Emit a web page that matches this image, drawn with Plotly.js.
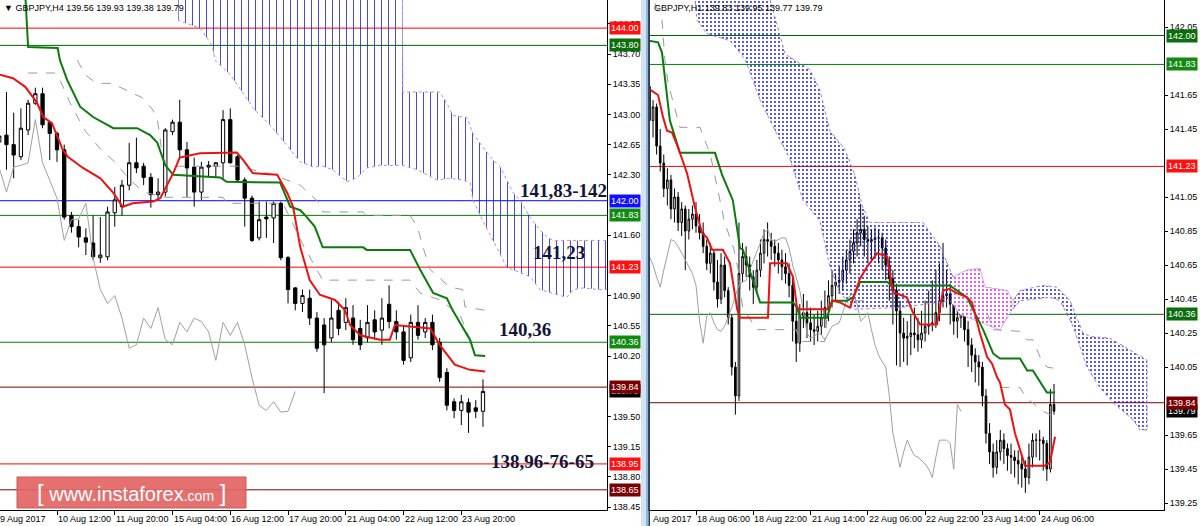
<!DOCTYPE html>
<html><head><meta charset="utf-8">
<script src="https://cdn.plot.ly/plotly-3.0.1.min.js"></script>
<style>html,body{margin:0;padding:0;background:#fff;overflow:hidden}#chart{width:1200px;height:526px}</style>
</head><body><div id="chart"></div>
<script>
// ================= LEFT PANEL : GBPJPY H4 =================
const barL0 = -8; // bar number of first candle (bar 0 = 10 Aug 12:00)
const openL  = [142.68,142.76,142.65,142.51,142.82,143.13,143.24,142.91,142.78,142.59,141.83,141.70,141.57,141.51,141.34,141.35,141.86,141.93,142.18,142.44,142.40,142.27,142.07,142.10,142.80,142.91,142.59,142.39,142.10,142.39,142.40,142.44,142.94,142.51,142.24,142.03,141.57,141.81,141.80,141.97,141.34,140.99,140.81,140.87,140.64,140.56,140.41,140.73,140.59,140.64,140.52,140.41,140.62,140.50,140.80,140.60,140.48,140.18,140.59,140.48,140.59,140.36,140.01,139.67,139.57,139.66,139.60,139.56];
const highL  = [142.88,143.26,143.02,143.07,143.17,143.31,143.31,142.91,142.80,142.65,141.87,141.78,141.68,141.83,141.81,141.93,142.16,142.24,142.67,142.73,142.44,142.32,142.26,142.84,142.94,143.17,142.68,142.50,142.45,142.46,142.45,143.05,143.07,142.53,142.27,142.06,141.99,141.99,141.99,141.99,141.36,141.00,140.97,140.97,140.71,140.64,140.85,140.83,140.87,140.79,140.62,140.79,140.73,140.87,141.02,140.73,140.56,140.68,140.79,140.64,140.68,140.41,140.06,139.71,139.75,139.71,139.69,139.93];
const lowL   = [142.47,142.36,142.26,142.47,142.76,143.11,142.84,142.47,142.45,141.78,141.63,141.46,141.37,141.31,141.28,141.31,141.70,141.83,142.12,142.32,142.18,141.92,142.01,142.05,142.76,142.50,142.04,141.93,142.01,142.27,142.27,142.24,142.43,142.23,141.70,141.52,141.54,141.57,141.51,141.31,140.81,140.73,140.71,140.56,140.25,139.77,140.36,140.44,140.50,140.33,140.27,140.36,140.39,140.33,140.52,140.39,140.10,140.13,140.39,140.41,140.27,139.90,139.57,139.48,139.40,139.31,139.48,139.38];
const closeL = [142.75,142.65,142.53,142.84,143.13,143.24,142.88,142.78,142.59,141.81,141.70,141.58,141.52,141.35,141.37,141.87,142.01,142.18,142.44,142.38,142.27,142.07,142.10,142.82,142.91,142.59,142.38,142.10,142.39,142.41,142.44,142.94,142.44,142.24,142.03,141.54,141.78,141.79,141.97,141.34,140.97,140.81,140.90,140.64,140.29,140.33,140.64,140.52,140.76,140.39,140.33,140.59,140.48,140.64,140.60,140.48,140.15,140.59,140.44,140.59,140.33,139.95,139.63,139.57,139.67,139.55,139.56,139.79];

// indicator lines (bar number, price)
const tenkanLx = [-7.9,-6.1,-4.4,-2.8,-1.9,-0.7,0.8,1.5,3.6,6,7.8,9.1,10.5,13.3,14.3,16.1,17,19.8,24.9,25.8,27.1,30.5,31.9,32.7,33.7,35,36.4,38.5,39.9,40.6,42,44.7,46.1,46.8,51.7,53,55.1,57.2,59.3];
const tenkanLy = [143.46,143.42,143.32,143.14,142.97,142.90,142.59,142.51,142.38,142.26,142.09,141.93,141.97,141.99,142.03,142.32,142.50,142.55,142.56,142.47,142.32,142.30,142.09,141.93,141.46,141.08,140.91,140.85,140.73,140.56,140.44,140.39,140.39,140.56,140.52,140.33,140.10,140.04,140.02];
const kijunLx = [-4.4,-4,0.1,0.4,1.4,3.2,5,7.8,11.1,12.9,13.9,15,16.1,22.6,23.5,30.9,32.3,33.7,34.6,35.7,36.8,42.4,42.9,48.9,50.3,52.1,54,54.8,57.2,57.9,59.3];
const kijunLy = [144.40,143.78,143.77,143.63,143.40,143.09,142.97,142.84,142.84,142.76,142.67,142.41,142.30,142.27,142.22,142.21,141.93,141.89,141.81,141.70,141.46,141.46,141.43,141.43,141.20,140.93,140.87,140.73,140.39,140.21,140.20];
const dashA_Lx = [-4,-0.3,0.4,2,4,6,8,10,12,15,23,23.5,31.3,32.3,34,36,36.8,48.9,50.3,53,55.8,57.2,58.3];
const dashA_Ly = [143.48,143.48,143.40,143.10,142.80,142.60,142.45,142.25,142.10,142.04,142.04,141.97,141.97,141.80,141.50,141.20,141.08,141.08,140.93,140.85,140.68,140.39,140.33];
const dashB_Lx = [2.8,3.9,5.5,7.6,10.4,11.9,13.3,13.9,14.7,16,25,30,33.7,36.4,36.8,42.4,42.9,48.9,49.9,50.7,51.7,54.4,56.2,56.5,59.3];
const dashB_Ly = [143.63,143.46,143.36,143.36,143.25,143.19,143.05,142.94,142.47,142.40,142.40,142.30,142.18,141.97,141.87,141.87,141.83,141.83,141.70,141.46,141.20,141.00,140.97,140.77,140.73];
// Kumo (cloud) boundaries
const cloudTopLx = [16.8,47.8,47.9,53,54,54.8,56.8,57.6,59,60.4,61.4,63.2,64.1,65.5,66.9,67.9,68.7,75.2,76.3];
const cloudTopLy = [145.0,145.0,143.26,143.26,143.13,142.99,142.96,142.78,142.62,142.47,142.39,142.09,142.01,141.81,141.66,141.58,141.54,141.54,141.54];
const cloudBotLx = [16.8,19.8,21.5,21.9,24,26,27.4,29.5,32.3,33.7,35.5,36.8,38.2,40.2,41.6,42.9,44.7,47.9,49.9,51.2,52.6,54.4,56.2,57.2,57.6,58.9,60.4,62.3,64.1,65.5,66.9,68.7,70.6,71.5,72.9,75.2,76.3];
const cloudBotLy = [144.09,144.00,143.80,143.63,143.46,143.22,143.05,142.88,142.59,142.45,142.39,142.40,142.36,142.22,142.27,142.38,142.41,142.41,142.36,142.30,142.24,142.26,142.24,142.21,142.01,141.78,141.54,141.23,141.17,141.12,140.97,140.93,140.88,140.97,140.99,140.97,140.97];
const levelsL = [144.00,143.80,142.00,141.83,141.23,140.36,139.84,138.95,138.65];
const levelColorsL = ['#ff0000','#006400','#0000ff','#008000','#ff0000','#008000','#800000','#ff0000','#800000'];
const boxValsL = ['144.00','143.80','142.00','141.83','141.23','140.36','139.79','139.84','138.95','138.65'];
const boxColorsL = ['#ff1010','#0a6e0a','#1010ff','#108a10','#ff1010','#108a10','#000000','#7a0000','#ff1010','#7a0000'];
const tickValsL = [138.45,138.80,139.15,139.50,140.20,140.55,140.90,141.60,142.30,142.65,143.00,143.35,143.70,144.05];
const dateBarsL = [0,8,16,24,32,40,48,56];
const dateTextL = ['10 Aug 12:00','11 Aug 20:00','15 Aug 04:00','16 Aug 12:00','17 Aug 20:00','21 Aug 04:00','22 Aug 12:00','23 Aug 20:00'];

// ================= RIGHT PANEL : GBPJPY H1 =================
const barR0 = -13; // bar number of first candle (bar 0 = 18 Aug 06:00)
const openR  = [141.70,141.50,141.58,141.35,141.25,141.10,141.15,140.98,141.05,140.90,140.98,140.85,140.92,140.95,140.88,140.84,140.76,140.66,140.72,140.55,140.45,140.65,140.50,140.34,140.05,139.88,
140.60,140.70,140.65,140.58,140.52,140.62,140.72,140.80,140.79,140.76,140.72,140.68,140.64,140.60,140.53,140.32,140.19,140.35,140.37,140.31,140.27,140.26,140.29,140.34,140.40,140.47,140.53,140.55,140.56,140.62,140.68,140.73,140.78,140.84,140.86,140.80,140.79,140.80,140.81,140.81,140.75,140.65,140.57,140.50,140.38,140.25,140.22,140.23,140.25,140.24,140.21,140.25,140.29,140.30,140.31,140.37,140.44,140.47,140.48,140.42,140.32,140.34,140.37,140.27,140.18,140.12,140.08,140.05,139.88,139.66,139.55,139.46,139.55,139.62,139.57,139.53,139.52,139.50,139.48,139.45,139.40,139.52,139.62,139.62,139.62,139.60,139.45,139.83];
const highR  = [141.75,141.62,141.60,141.45,141.30,141.22,141.18,141.10,141.08,141.02,141.00,140.98,141.00,141.02,140.95,140.90,140.80,140.78,140.74,140.68,140.72,140.70,140.52,140.36,140.08,140.90,
140.78,140.76,140.70,140.62,140.68,140.80,140.86,140.90,140.84,140.80,140.78,140.74,140.72,140.66,140.58,140.40,140.42,140.48,140.44,140.40,140.36,140.38,140.44,140.50,140.56,140.62,140.60,140.64,140.70,140.74,140.80,140.86,140.92,141.01,140.94,140.88,140.86,140.87,140.86,140.84,140.80,140.70,140.62,140.54,140.44,140.34,140.32,140.36,140.40,140.34,140.38,140.44,140.50,140.56,140.62,140.66,140.78,140.62,140.54,140.48,140.42,140.46,140.42,140.32,140.22,140.16,140.12,140.08,139.92,139.72,139.60,139.62,139.68,139.66,139.60,139.60,139.56,139.56,139.52,139.50,139.60,139.66,139.66,139.68,139.64,139.62,139.92,139.95];
const lowR   = [141.45,141.40,141.30,141.20,141.05,141.00,140.92,140.90,140.85,140.82,140.62,140.80,140.86,140.84,140.80,140.72,140.62,140.60,140.50,140.40,140.42,140.46,140.30,140.00,139.77,139.85,
140.55,140.58,140.50,140.42,140.48,140.58,140.66,140.70,140.68,140.64,140.60,140.56,140.54,140.46,140.20,140.08,140.14,140.28,140.22,140.20,140.18,140.20,140.24,140.28,140.32,140.40,140.44,140.48,140.50,140.54,140.60,140.66,140.70,140.76,140.70,140.66,140.68,140.70,140.66,140.62,140.56,140.44,140.30,140.06,140.05,140.08,140.06,140.12,140.16,140.14,140.16,140.20,140.24,140.26,140.28,140.32,140.40,140.40,140.30,140.24,140.22,140.28,140.20,140.05,140.02,139.96,139.94,139.82,139.60,139.48,139.40,139.42,139.50,139.48,139.44,139.42,139.40,139.36,139.34,139.31,139.36,139.46,139.52,139.50,139.44,139.38,139.43,139.77];
const closeR = [141.50,141.58,141.35,141.25,141.10,141.15,140.98,141.05,140.90,140.98,140.85,140.92,140.95,140.88,140.84,140.76,140.66,140.72,140.55,140.45,140.65,140.50,140.34,140.05,139.88,140.60,
140.70,140.65,140.58,140.52,140.62,140.72,140.80,140.79,140.76,140.72,140.68,140.64,140.60,140.53,140.32,140.19,140.35,140.37,140.31,140.27,140.26,140.29,140.34,140.40,140.47,140.53,140.55,140.56,140.62,140.68,140.73,140.78,140.84,140.86,140.80,140.79,140.80,140.81,140.81,140.75,140.65,140.57,140.50,140.38,140.25,140.22,140.23,140.25,140.24,140.21,140.25,140.29,140.30,140.31,140.37,140.44,140.47,140.48,140.42,140.32,140.34,140.37,140.27,140.18,140.12,140.08,140.05,139.88,139.66,139.55,139.46,139.55,139.62,139.57,139.53,139.52,139.50,139.48,139.45,139.40,139.52,139.62,139.62,139.62,139.60,139.45,139.83,139.79];

const tenkanRx = [-12.8,-10.6,-9.2,-8.1,-6.7,-5,-2.5,-0.3,1.7,3.1,4.5,7.5,9.5,11.5,12.3,20.1,20.7,25.4,27.1,28.2,29.1,36.6,38.3,40.2,43,45.8,47.8,50.6,53.4,55,58.9,60.6,62.6,67.3,69,70.9,72.3,75.7,77.1,79.3,81.3,82.7,84.1,84.9,86.3,87.7,89.1,90.5,91.9,97.5,98.9,100.3];
const tenkanRy = [141.68,141.65,141.52,141.44,141.43,141.34,141.19,140.99,140.84,140.81,140.74,140.74,140.66,140.39,140.34,140.34,140.66,140.66,140.58,140.40,140.39,140.39,140.44,140.43,140.40,140.57,140.64,140.72,140.70,140.49,140.46,140.37,140.30,140.30,140.50,140.51,140.49,140.46,140.43,140.25,140.11,140.07,139.99,139.96,139.83,139.80,139.66,139.57,139.47,139.47,139.49,139.64];
const kijunRx = [-13.2,-10.6,-9.5,-8.1,-7.3,-4.5,5.3,7.3,10.3,12.3,13.1,17.9,27.1,28.2,29.1,36.6,38,42.2,43.9,45.8,53.4,55,70.9,75.7,77.9,80.2,83,84.9,90.5,92.5,94.1,96.1,98,100.3];
const kijunRy = [141.97,141.96,141.90,141.64,141.50,141.31,141.31,141.18,141.03,140.75,140.74,140.43,140.43,140.40,140.34,140.34,140.44,140.44,140.46,140.55,140.55,140.53,140.53,140.46,140.37,140.27,140.13,140.10,140.10,140.03,140.03,139.96,139.90,139.90];
const dashA_Rx = [81.3,83,90.5,92.5,94.1,96.1,98,100.8];
const dashA_Ry = [140.37,140.27,140.26,140.21,140.21,140.11,140.05,140.04];
const dashB_Rx = [85,90.5,92.5,94.1,96.1,98,99.7];
const dashB_Ry = [139.93,139.93,139.86,139.84,139.80,139.78,139.76];
const dashC_Rx = [-11.5,-9.5,-8.7,-7.8,-4.5,1.1,4,6,8,10.5,12,13,17,28,29,36,37,44,49];
const dashC_Ry = [142.19,142.09,141.86,141.72,141.46,141.46,141.30,141.10,140.90,140.75,140.60,140.40,140.27,140.27,140.20,140.20,140.44,140.44,140.44];
const cloudTopRx = [-0.8,19.3,20.7,24.9,31.8,34.6,37.4,41.6,44.4,46.4,48.6,63.4,68.2,71.8,75.7,79.3,80.7,86.9,88.5,90.5,96.9,100.8,104.5,108.1,110.1,115.6,121.2,126];
const cloudTopRy = [142.5,142.5,142.21,141.89,141.80,141.68,141.44,141.33,141.18,141.00,140.90,140.90,140.76,140.58,140.62,140.63,140.52,140.50,140.44,140.50,140.53,140.52,140.44,140.25,140.23,140.22,140.15,140.09];
const cloudBotRx = [-0.8,-0.3,0.3,3.1,9.5,13.7,17.9,22.1,26.3,29.9,34.6,37.4,40.2,43.9,57,71,73.7,84.9,87.7,90.5,98.9,101.7,105.3,109.2,112.8,116.5,122.1,124,126];
const cloudBotRy = [142.5,142.21,142.09,142.01,141.97,141.86,141.62,141.44,141.27,141.03,140.91,140.64,140.49,140.39,140.40,140.44,140.36,140.27,140.37,140.44,140.46,140.44,140.29,140.05,139.93,139.84,139.74,139.68,139.68];
const pinkTopRx = [71.8,75.7,79.3,80.7,86.9,88.5];
const pinkTopRy = [140.58,140.62,140.63,140.52,140.50,140.44];
const pinkBotRx = [71.8,73.7,84.9,87.7,88.5];
const pinkBotRy = [140.42,140.36,140.27,140.37,140.40];
const levelsR = [142.00,141.83,141.23,140.36,139.84];
const levelColorsR = ['#006400','#008000','#ff0000','#006400','#800000'];
const boxValsR = ['142.00','141.83','141.23','140.36','139.79','139.84'];
const boxColorsR = ['#0a6e0a','#108a10','#ff1010','#0a6e0a','#000000','#7a0000'];
const tickValsR = [139.25,139.45,139.65,140.05,140.25,140.45,140.65,140.85,141.05,141.45,141.65,142.05];
const dateBarsR = [0,16,32,48,64,80,96];
const dateTextR = ['18 Aug 06:00','18 Aug 22:00','21 Aug 14:00','22 Aug 06:00','22 Aug 22:00','23 Aug 14:00','24 Aug 06:00'];

const headerL = '\u25BC GBPJPY,H4 139.56 139.93 139.38 139.79';
const headerR = 'GBPJPY,H1 139.83 139.95 139.77 139.79';
const notes = [
  {text:'141,83-142', bar:63.9, price:142.12},
  {text:'141,23', bar:65.6, price:141.40},
  {text:'140,36', bar:60.9, price:140.51},
  {text:'138,96-76-65', bar:59.9, price:138.98}
];

// ================= BUILD =================
const W = 1200, H = 526;
const FONT = 'Liberation Sans, Arial, sans-serif';
const xL = openL.map((_, n) => barL0 + n);
const xR = openR.map((_, n) => barR0 + n);
const CHIKOU = 26;

function candles(x, o, h, l, c, xa, ya) {
  return {type:'candlestick', x:x, open:o, high:h, low:l, close:c, xaxis:xa, yaxis:ya,
    increasing:{line:{color:'#000', width:1}, fillcolor:'#ffffff'},
    decreasing:{line:{color:'#000', width:1}, fillcolor:'#000000'},
    whiskerwidth:0, hoverinfo:'skip', showlegend:false};
}
function line(x, y, xa, ya, color, width, dash) {
  return {type:'scatter', mode:'lines', x:x, y:y, xaxis:xa, yaxis:ya,
    line:{color:color, width:width, dash:dash||'solid'}, hoverinfo:'skip', showlegend:false};
}
function cloud(tx, ty, bx, by, xa, ya, pat, edge) {
  const x = tx.concat(bx.slice().reverse());
  const y = ty.concat(by.slice().reverse());
  return {type:'scatter', mode:'lines', x:x, y:y, xaxis:xa, yaxis:ya, fill:'toself',
    fillcolor:'rgba(0,0,0,0)', fillpattern:pat,
    line:{color:edge, width:1, dash:'dot'}, hoverinfo:'skip', showlegend:false};
}
const patL = {shape:'|', fgcolor:'#1c1cd0', fgopacity:0.8, bgcolor:'rgba(255,255,255,0)', size:7, solidity:0.15};
const patR = {shape:'.', fgcolor:'#1818c8', fgopacity:1, bgcolor:'rgba(255,255,255,0)', size:4, solidity:0.18};
const patP = {shape:'.', fgcolor:'#e020e0', fgopacity:1, bgcolor:'#ffffff', size:4, solidity:0.18};

const traces = [
  cloud(cloudTopLx, cloudTopLy, cloudBotLx, cloudBotLy, 'x', 'y', patL, '#b68ae6'),
  cloud(cloudTopRx, cloudTopRy, cloudBotRx, cloudBotRy, 'x2', 'y2', patR, '#a07ae0'),
  cloud(pinkTopRx, pinkTopRy, pinkBotRx, pinkBotRy, 'x2', 'y2', patP, '#f090f0'),
  line(dashA_Lx, dashA_Ly, 'x', 'y', '#9a9a9a', 1, 'dash'),
  line(dashB_Lx, dashB_Ly, 'x', 'y', '#9a9a9a', 1, 'dash'),
  line(dashA_Rx, dashA_Ry, 'x2', 'y2', '#9a9a9a', 1, 'dash'),
  line(dashB_Rx, dashB_Ry, 'x2', 'y2', '#9a9a9a', 1, 'dash'),
  line(dashC_Rx, dashC_Ry, 'x2', 'y2', '#9a9a9a', 1, 'dash'),
  line(xL.slice(CHIKOU).map(v => v - CHIKOU), closeL.slice(CHIKOU), 'x', 'y', '#a0a0a0', 1),
  line(xR.slice(CHIKOU).map(v => v - CHIKOU), closeR.slice(CHIKOU), 'x2', 'y2', '#a0a0a0', 1),
  candles(xL, openL, highL, lowL, closeL, 'x', 'y'),
  candles(xR, openR, highR, lowR, closeR, 'x2', 'y2'),
  line(kijunLx, kijunLy, 'x', 'y', '#0c7a0c', 2),
  line(tenkanLx, tenkanLy, 'x', 'y', '#ee1111', 2),
  line(kijunRx, kijunRy, 'x2', 'y2', '#0c7a0c', 2),
  line(tenkanRx, tenkanRy, 'x2', 'y2', '#ee1111', 2)
];

const shapes = [];
const annotations = [];
levelsL.forEach((v, n) => shapes.push({type:'line', xref:'x domain', x0:0, x1:1, yref:'y', y0:v, y1:v, line:{color:levelColorsL[n], width:1}, layer:'below'}));
levelsR.forEach((v, n) => shapes.push({type:'line', xref:'x2 domain', x0:0, x1:1, yref:'y2', y0:v, y1:v, line:{color:levelColorsR[n], width:1}, layer:'below'}));
// separator between the two windows
shapes.push({type:'rect', xref:'paper', yref:'paper', x0:641/W, x1:646/W, y0:0, y1:1, fillcolor:'#d3e3f3', line:{width:0}});
shapes.push({type:'rect', xref:'paper', yref:'paper', x0:646/W, x1:648.5/W, y0:0, y1:1, fillcolor:'#93b5d8', line:{width:0}});
shapes.push({type:'rect', xref:'paper', yref:'paper', x0:648.5/W, x1:650/W, y0:0, y1:1, fillcolor:'#2a3f58', line:{width:0}});
// logo box
shapes.push({type:'rect', xref:'paper', yref:'paper', x0:17/W, x1:246/W, y0:(H-508)/H, y1:(H-477)/H, fillcolor:'#e26464', opacity:0.92, line:{color:'#c94a4a', width:1}});

function boxes(vals, colors, ya, px) {
  vals.forEach((t, n) => annotations.push({xref:'paper', x:px/W, xanchor:'left', yref:ya, y:parseFloat(t), yanchor:'middle',
    text:t, showarrow:false, bgcolor:colors[n], borderpad:1, font:{family:FONT, size:9, color:'#ffffff'}}));
}
boxes(boxValsL, boxColorsL, 'y', 609);
boxes(boxValsR, boxColorsR, 'y2', 1166);

const dateFont = {family:FONT, size:9, color:'#000'};
const dateY = (H-519)/H;
dateBarsL.forEach((b, n) => annotations.push({xref:'x', x:b, xanchor:'left', yref:'paper', y:dateY, yanchor:'middle', text:dateTextL[n], showarrow:false, xshift:-1, font:dateFont}));
dateBarsR.forEach((b, n) => annotations.push({xref:'x2', x:b, xanchor:'left', yref:'paper', y:dateY, yanchor:'middle', text:dateTextR[n], showarrow:false, xshift:-1, font:dateFont}));
annotations.push({xref:'paper', x:-2/W, xanchor:'left', yref:'paper', y:dateY, yanchor:'middle', text:'9 Aug 2017', showarrow:false, font:dateFont});
annotations.push({xref:'paper', x:651/W, xanchor:'left', yref:'paper', y:dateY, yanchor:'middle', text:'Aug 2017', showarrow:false, font:dateFont});
annotations.push({xref:'paper', x:2/W, xanchor:'left', yref:'paper', y:(H-8)/H, yanchor:'middle', text:headerL, showarrow:false, font:dateFont});
annotations.push({xref:'paper', x:652/W, xanchor:'left', yref:'paper', y:(H-8)/H, yanchor:'middle', text:headerR, showarrow:false, font:dateFont});
notes.forEach(a => annotations.push({xref:'x', x:a.bar, xanchor:'left', yref:'y', y:a.price, yanchor:'middle', text:'<b>'+a.text+'</b>', showarrow:false,
  font:{family:'Liberation Serif, Times New Roman, serif', size:19, color:'#141438'}}));
annotations.push({xref:'paper', x:131/W, xanchor:'center', yref:'paper', y:(H-492.5)/H, yanchor:'middle', showarrow:false,
  text:'<span style="font-size:24px">[</span> www.instaforex<span style="font-size:14px">.com</span> <span style="font-size:24px">]</span>',
  font:{family:FONT, size:20, color:'#ffffff'}});

const yDom = [16/H, 1];
const axX = (dom, rng, ticks) => ({domain:dom, range:rng, showgrid:false, zeroline:false, showline:true, mirror:true, linecolor:'#000', linewidth:1,
  ticks:'outside', ticklen:4, tickcolor:'#000', tickvals:ticks, showticklabels:false, rangeslider:{visible:false}, fixedrange:true});
const axY = (rng, tv, anchor) => ({domain:yDom, range:rng, side:'right', anchor:anchor, showgrid:false, zeroline:false, showline:true, mirror:true,
  linecolor:'#000', linewidth:1, ticks:'outside', ticklen:3, tickcolor:'#000', tickvals:tv, tickformat:'.2f',
  tickfont:{family:FONT, size:9, color:'#000'}, fixedrange:true});

const layout = {
  width:W, height:H, margin:{l:0, r:0, t:0, b:0}, paper_bgcolor:'#ffffff', plot_bgcolor:'#ffffff', showlegend:false,
  xaxis: axX([0, 607/W], [-57/7.22, 550/7.22], dateBarsL),
  yaxis: axY([138.416, 144.326], tickValsL, 'x'),
  xaxis2: axX([649/W, 1164/W], [-47/3.58, 468/3.58], dateBarsR),
  yaxis2: axY([139.209, 142.209], tickValsR, 'x2'),
  shapes:shapes, annotations:annotations, boxgap:0.35
};
layout.xaxis2.anchor = 'y2';
layout.xaxis.anchor = 'y';

Plotly.newPlot('chart', traces, layout, {staticPlot:true, displayModeBar:false});
</script></body></html>
